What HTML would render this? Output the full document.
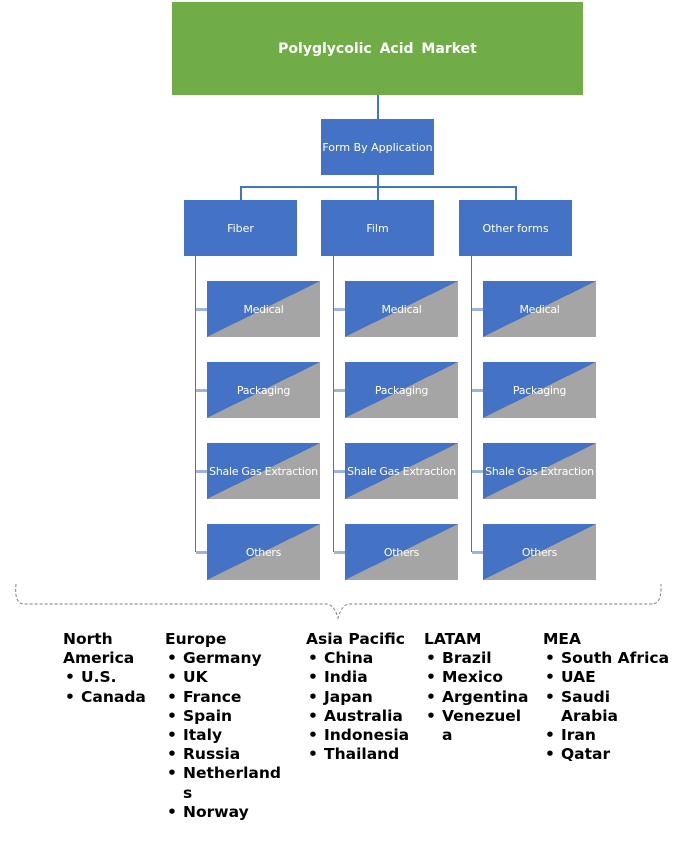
<!DOCTYPE html>
<html><head><style>
body{margin:0;width:683px;height:845px;background:#fff;position:relative;font-family:"DejaVu Sans","Liberation Sans",sans-serif;overflow:hidden}
.b{position:absolute;background:#4472c4;color:#fff;font-size:11px;display:flex;align-items:center;justify-content:center}
.leaf{position:absolute;width:113px;height:56px;background:linear-gradient(to bottom right,#4472c4 50%,#a5a5a5 50%);color:#fff;font-size:11px;display:flex;align-items:center;justify-content:center;white-space:nowrap;letter-spacing:-0.3px}
.l{position:absolute;background:#4472c4}
.s{position:absolute;background:#9fb4dc;height:3px}
.col{position:absolute;top:630px;font-weight:bold;font-size:15.5px;line-height:19.2px;color:#000}
.col ul{margin:0;padding:0;list-style:none}
.col li{position:relative;padding-left:18px}
.col li:before{content:"•";position:absolute;left:2px}
</style></head><body>
<div class="b" style="left:172px;top:2px;width:411px;height:93px;background:#70ad47;font-weight:bold;font-size:14px;word-spacing:3px">Polyglycolic Acid Market</div>
<div class="l" style="left:377px;top:95px;width:2px;height:24px"></div>
<div class="b" style="left:321px;top:119px;width:113px;height:56px">Form By Application</div>
<div class="l" style="left:377px;top:175px;width:2px;height:12px"></div>
<div class="l" style="left:240px;top:186px;width:277px;height:2px"></div>
<div class="l" style="left:240px;top:186px;width:2px;height:14px"></div>
<div class="l" style="left:377px;top:186px;width:2px;height:14px"></div>
<div class="l" style="left:515px;top:186px;width:2px;height:14px"></div>
<div class="b" style="left:184px;top:200px;width:113px;height:56px">Fiber</div>
<div class="b" style="left:321px;top:200px;width:113px;height:56px">Film</div>
<div class="b" style="left:459px;top:200px;width:113px;height:56px">Other forms</div>
<div class="l" style="left:195px;top:256px;width:1px;height:296px"></div>
<div class="l" style="left:333px;top:256px;width:1px;height:296px"></div>
<div class="l" style="left:471px;top:256px;width:1px;height:296px"></div>
<div class="s" style="left:196px;top:308px;width:11px"></div><div class="s" style="left:196px;top:389px;width:11px"></div><div class="s" style="left:196px;top:470px;width:11px"></div><div class="s" style="left:196px;top:551px;width:11px"></div>
<div class="s" style="left:334px;top:308px;width:11px"></div><div class="s" style="left:334px;top:389px;width:11px"></div><div class="s" style="left:334px;top:470px;width:11px"></div><div class="s" style="left:334px;top:551px;width:11px"></div>
<div class="s" style="left:472px;top:308px;width:11px"></div><div class="s" style="left:472px;top:389px;width:11px"></div><div class="s" style="left:472px;top:470px;width:11px"></div><div class="s" style="left:472px;top:551px;width:11px"></div>
<div class="leaf" style="left:207px;top:281px">Medical</div><div class="leaf" style="left:207px;top:362px">Packaging</div><div class="leaf" style="left:207px;top:443px">Shale Gas Extraction</div><div class="leaf" style="left:207px;top:524px">Others</div>
<div class="leaf" style="left:345px;top:281px">Medical</div><div class="leaf" style="left:345px;top:362px">Packaging</div><div class="leaf" style="left:345px;top:443px">Shale Gas Extraction</div><div class="leaf" style="left:345px;top:524px">Others</div>
<div class="leaf" style="left:483px;top:281px">Medical</div><div class="leaf" style="left:483px;top:362px">Packaging</div><div class="leaf" style="left:483px;top:443px">Shale Gas Extraction</div><div class="leaf" style="left:483px;top:524px">Others</div>
<svg style="position:absolute;left:0;top:0" width="683" height="845"><path d="M16,584 Q14,604 24,604 L326,604 Q334,604 338,618 Q342,604 350,604 L652,604 Q662,604 661,584" fill="none" stroke="#7f7f7f" stroke-width="1" stroke-dasharray="3,2"/></svg>
<div class="col" style="left:63px">North<br>America<ul><li>U.S.</li><li>Canada</li></ul></div>
<div class="col" style="left:165px">Europe<ul><li>Germany</li><li>UK</li><li>France</li><li>Spain</li><li>Italy</li><li>Russia</li><li>Netherland<br>s</li><li>Norway</li></ul></div>
<div class="col" style="left:306px">Asia Pacific<ul><li>China</li><li>India</li><li>Japan</li><li>Australia</li><li>Indonesia</li><li>Thailand</li></ul></div>
<div class="col" style="left:424px">LATAM<ul><li>Brazil</li><li>Mexico</li><li>Argentina</li><li>Venezuel<br>a</li></ul></div>
<div class="col" style="left:543px">MEA<ul><li>South Africa</li><li>UAE</li><li>Saudi<br>Arabia</li><li>Iran</li><li>Qatar</li></ul></div>
</body></html>
